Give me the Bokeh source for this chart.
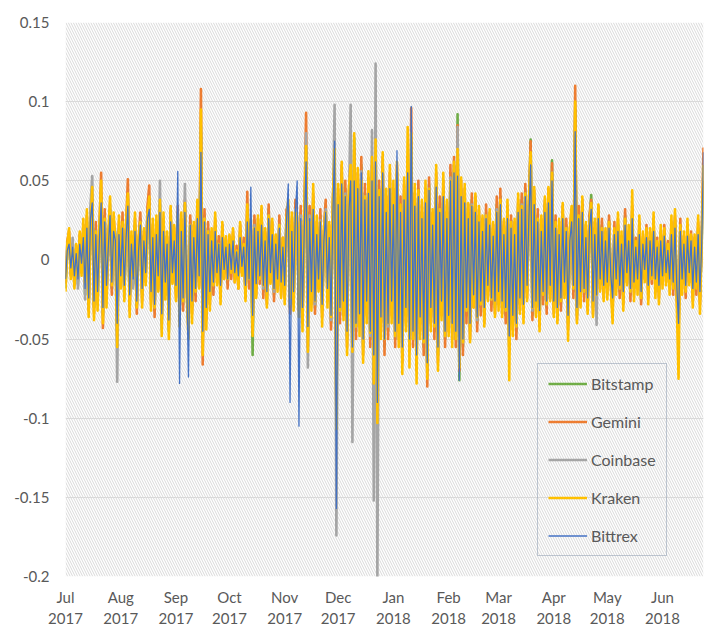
import datetime as dt
import calendar
from bokeh.plotting import figure
from bokeh.models import (Range1d, FixedTicker, CustomJSTickFormatter, BoxAnnotation,
                          Legend, LegendItem, ColumnDataSource)
from bokeh.embed import file_html
from bokeh.resources import INLINE

# Daily returns, in thousandths, Jul 1 2017 .. Jun 24 2018
start_date = dt.date(2017, 7, 1)

bitstamp = [
    -18, 8, 14, -6, 10, -12, 5, -15, 12, -3, 18, -22, 25, -28, 30, 40, -30, 20, -25, 15, 42, -35, 28, -20, 10, 32, -18, 22, 15, -45, 20,
    -12, 25, -20, 18, 40, -28, 12, -15, 22, -30, 8, 26, -22, 15, -10, 30, 38, -25, 18, -32, 20, -14, 35, -40, 22, -18, 12, -45, 28, -10, 16,
    -20, 30, -35, 22, -28, 35, -15, -40, 25, -30, 18, -22, 30, -12, 80, -50, 28, -35, 20, -25, 15, -18, 22, -10, 12, -20, 18, -8, 10, -15,
    12, -8, 15, -10, 6, -14, 18, -5, 10, -20, 30, -15, 20, -60, 25, -18, 22, -12, 28, -20, 15, -25, 32, -10, 20, -22, 12, -15, 25, -18, 10,
    -20, 28, 30, -30, 22, -25, 35, 20, -28, 30, -35, 25, 70, -48, 30, -25, 38, -30, 20, -15, 28, -32, 15, 35, -22, 18, -40, 30, 60, -95,
    40, -35, 55, -30, 45, -50, 35, 55, -60, 77, -45, 50, -38, 60, -55, 42, -30, 48, -50, 55, -65, 70, -75, 45, -40, 60, -55, 35, -45, 50, -30,
    40, -50, 55, -45, 35, -60, 42, -35, 60, -55, 75, -50, 38, -65, 45, -40, 30, -55, 40, -70, 48, -35, 25, -45, 50, -60, 35, -30, 45, -50, 30,
    -40, 55, -45, 60, -50, 92, -76, 45, -55, 40, -35, 30, -45, 38, -25, 35, -40, 28, -30, 22, -35, 30, -20, 25, -28, 18, -30, 35,
    -25, 40, -30, 20, -35, 30, -55, 25, -40, 20, -45, 35, -28, 38, -32, 45, -20, 30, 76, -35, 40, -30, 28, -38, 22, -25, 35, -30, 42, -20, 63,
    -30, 25, -35, 20, -28, 30, -18, 22, -40, 15, 28, -20, 95, -35, 30, -25, 35, -22, 18, -28, 25, 41, -30, 20, -25, 30, -15, 22, -20, 15,
    -18, 25, -12, -30, 20, -15, 22, -20, 12, -25, 28, -10, 15, -22, 30, -18, 10, -15, 20, -25, 12, -8, 18, -20, 14, -12, 22, -16, 10, -20, 15,
    -12, 18, -10, 8, -15, 20, -18, 25, -20, -45, 22, -15, 12, -20, 18, -10, 15, -22, 10, -18, 20, -25, 12, 50,
]

gemini = [
    -15, 12, 18, -10, 8, -16, 9, -12, 16, -8, 22, -18, 28, -32, 26, 36, -34, 24, -20, 18, 55, -43, 32, -24, 14, 28, -22, 26, 12, -48, 24,
    -16, 30, -18, 22, 51, -32, 15, -12, 26, -34, 12, 30, -26, 18, -14, 34, 47, -28, 22, -36, 24, -18, 30, -38, 26, -22, 15, -42, 32, -14, 20,
    -24, 34, -38, 26, -32, 38, -18, -44, 28, -34, 22, -26, 34, -16, 108, -66, 32, -38, 24, -28, 18, -22, 26, -14, 15, -24, 22, -12, 14, -18,
    15, -12, 18, -14, 9, -18, 22, -8, 14, -24, 43, -18, 24, -45, 28, -22, 26, -15, 32, -24, 18, -28, 35, -14, 24, -26, 15, -18, 28, -22, 14,
    -24, 32, 34, -34, 26, -28, 38, 24, -32, 34, -40, 28, 93, -55, 34, -28, 42, -34, 24, -18, 32, -36, 18, 38, -26, 22, -44, 34, 65, -100,
    45, -40, 60, -35, 50, -55, 40, 65, -62, 70, -50, 55, -42, 65, -60, 48, -35, 52, -55, 60, -70, 74, -80, 50, -45, 65, -60, 40, -50, 55, -35,
    45, -55, 60, -50, 40, -65, 48, -40, 65, -58, 96, -55, 42, -70, 50, -45, 35, -60, 45, -80, 52, -40, 30, -50, 55, -65, 40, -35, 50, -55, 35,
    -45, 60, -50, 65, -55, 85, -70, 50, -60, 45, -40, 35, -50, 42, -30, 40, -45, 32, -35, 26, -40, 35, -24, 30, -32, 22, -34, 40,
    -28, 45, -34, 24, -40, 34, -58, 28, -44, 24, -50, 38, -32, 42, -36, 48, -24, 34, 75, -38, 44, -34, 32, -42, 26, -28, 38, -34, 45, -24, 61,
    -34, 28, -38, 24, -32, 34, -22, 26, -44, 18, 32, -24, 110, -38, 34, -28, 38, -26, 22, -32, 28, 38, -34, 24, -28, 34, -18, 26, -24, 18,
    -22, 28, -15, -34, 24, -18, 26, -24, 15, -28, 32, -14, 18, -26, 34, -22, 14, -18, 24, -28, 15, -12, 22, -24, 18, -15, 26, -20, 14, -24, 18,
    -15, 22, -14, 12, -18, 24, -22, 28, -24, -48, 26, -18, 15, -24, 22, -14, 18, -26, 14, -22, 24, -28, 15, 71,
]

coinbase = [
    -12, 10, 12, -9, 14, -10, 7, -18, 10, -6, 15, -25, 22, -30, 34, 53, -28, 18, -28, 12, 38, -32, 25, -24, 8, 35, -15, 20, 18, -77, 22,
    -10, 22, -24, 15, 36, -25, 10, -18, 20, -28, 6, 24, -20, 12, -8, 28, 34, -22, 16, -30, 18, -12, 50, -44, 20, -16, 10, -40, 26, -8, 14,
    -18, 28, -32, 20, -26, 48, -14, -38, 22, -28, 16, -20, 28, -10, 85, -48, 26, -32, 18, -22, 12, -16, 20, -8, 10, -18, 16, -6, 8, -12,
    10, -6, 12, -8, 5, -12, 15, -4, 8, -18, 26, -12, 18, -40, 22, -15, 20, -10, 25, -18, 12, -22, 28, -8, 18, -20, 10, -12, 22, -15, 8,
    -18, 25, 28, -28, 20, -22, 32, 18, -25, 28, -32, 22, 80, -68, 28, -22, 35, -28, 18, -14, 25, -30, 14, 32, -20, 16, -38, 28, 98, -174,
    38, -32, 50, -28, 42, -48, 32, 98, -115, 55, -42, 48, -35, 56, -52, 40, -28, 45, -48, 82, -152, 124, -200, 42, -38, 55, -50, 32, -42, 46, -28,
    38, -48, 52, -42, 32, -58, 40, -32, 55, -52, 70, -48, 35, -62, 42, -38, 28, -52, 38, -68, 45, -32, 22, -42, 48, -58, 32, -28, 42, -48, 28,
    -38, 52, -42, 55, -48, 84, -65, 42, -52, 38, -32, 28, -42, 35, -22, 32, -38, 25, -28, 20, -32, 28, -18, 22, -25, 16, -28, 32,
    -22, 36, -28, 18, -32, 28, -50, 22, -36, 18, -42, 32, -25, 35, -30, 42, -18, 28, 65, -32, 36, -28, 25, -35, 20, -22, 32, -28, 40, -18, 55,
    -26, 22, -32, 18, -25, 28, -15, 20, -36, 12, 25, -18, 80, -32, 26, -22, 32, -20, 16, -25, 22, 35, -28, 18, -41, 28, -12, 20, -18, 12,
    -15, 22, -10, -28, 18, -12, 20, -18, 10, -22, 25, -8, 12, -20, 28, -15, 8, -12, 18, -22, 10, -6, 15, -18, 12, -10, 20, -14, 8, -18, 12,
    -10, 16, -8, 6, -12, 18, -15, 22, -18, -40, 20, -12, 10, -18, 16, -8, 12, -20, 8, -15, 18, -22, 10, 45,
]

kraken = [
    -20, 10, 20, -12, 6, -18, 10, -10, 18, -10, 26, -14, 32, -36, 20, 46, -38, 18, -32, 22, 50, -40, 26, -30, 16, 40, -16, 30, 10, -55, 28,
    -18, 24, -26, 24, 42, -36, 18, -10, 30, -30, 14, 24, -30, 20, -16, 28, 40, -32, 26, -30, 28, -20, 38, -48, 30, -25, 18, -50, 34, -15, 22,
    -26, 28, -42, 30, -26, 36, -22, -50, 22, -40, 24, -20, 38, -18, 95, -60, 26, -44, 18, -32, 20, -16, 30, -16, 10, -28, 24, -12, 15, -12,
    16, -8, 20, -14, 6, -18, 24, -10, 10, -26, 35, -12, 26, -48, 20, -24, 28, -12, 34, -16, 20, -30, 28, -15, 26, -18, 16, -20, 22, -24, 14,
    -28, 26, 38, -24, 30, -32, 30, 28, -36, 24, -45, 32, 72, -58, 24, -32, 48, -26, 28, -20, 24, -42, 20, 30, -30, 24, -36, 38, 70, -107,
    48, -32, 62, -38, 40, -60, 45, 60, -58, 80, -42, 58, -48, 50, -65, 40, -40, 56, -46, 65, -78, 76, -103, 44, -50, 68, -50, 45, -40, 60, -40,
    50, -48, 62, -55, 35, -72, 52, -45, 84, -68, 80, -50, 48, -78, 44, -50, 38, -52, 50, -75, 45, -45, 32, -42, 60, -70, 32, -38, 55, -48, 38,
    -48, 50, -55, 62, -50, 70, -68, 52, -52, 48, -32, 36, -52, 34, -30, 42, -36, 34, -28, 28, -42, 28, -26, 32, -25, 24, -36, 30,
    -32, 38, -36, 26, -32, 38, -76, 24, -48, 26, -42, 42, -34, 34, -40, 42, -26, 36, 68, -30, 46, -36, 26, -45, 28, -22, 40, -28, 46, -26, 55,
    -36, 24, -40, 26, -26, 36, -24, 20, -51, 20, 34, -18, 100, -40, 28, -30, 40, -20, 24, -34, 22, 36, -36, 26, -22, 35, -20, 20, -26, 20,
    -25, 24, -18, -40, 20, -22, 30, -18, 18, -32, 26, -16, 22, -20, 44, -26, 12, -22, 28, -24, 18, -14, 20, -28, 20, -12, 30, -24, 12, -28, 22,
    -18, 20, -16, 10, -22, 28, -18, 32, -28, -75, 22, -22, 18, -20, 26, -16, 16, -30, 16, -18, 28, -34, 14, 60,
]

bittrex = [
    -12, 6, 10, -5, 8, -10, 4, -12, 10, -2, 14, -18, 20, -24, 26, 36, -26, 16, -20, 12, 36, -30, 24, -16, 8, 28, -14, 18, 12, -40, 16,
    -10, 20, -16, 14, 34, -22, 10, -12, 18, -26, 6, 22, -18, 12, -8, 26, 32, -20, 14, -28, 16, -10, 30, -34, 18, -14, 10, -38, 24, -8, 12,
    -16, 56, -78, 18, -24, 30, -12, -74, 22, -26, 14, -18, 26, -10, 68, -45, 24, -30, 16, -20, 12, -14, 18, -8, 10, -16, 14, -6, 8, -12,
    10, -6, 12, -8, 5, -10, 14, -4, 8, -16, 24, -12, 46, -35, 20, -15, 18, -10, 22, -16, 12, -20, 26, -8, 16, -18, 10, -12, 20, -14, 8,
    -16, 24, 48, -90, 18, -20, 30, 50, -105, 26, -30, 20, 62, -42, 26, -20, 32, -26, 16, -12, 24, -28, 12, 30, -18, 14, -35, 26, 75, -157,
    35, -30, 48, -26, 40, -45, 30, 50, -55, 50, -40, 45, -34, 55, -50, 38, -26, 42, -45, 50, -60, 62, -90, 40, -36, 55, -50, 30, -40, 45, -26,
    35, -45, 69, -40, 30, -55, 38, -30, 55, -50, 97, -45, 34, -60, 40, -36, 26, -50, 36, -65, 44, -30, 22, -40, 46, -55, 30, -26, 40, -45, 26,
    -35, 50, -40, 55, -45, 53, -76, 40, -50, 36, -30, 26, -40, 34, -22, 30, -36, 24, -26, 18, -30, 26, -16, 22, -24, 15, -26, 30,
    -20, 35, -26, 16, -30, 26, -48, 20, -35, 16, -40, 30, -24, 32, -28, 40, -16, 26, 60, -30, 35, -26, 24, -32, 18, -20, 30, -26, 36, -16, 50,
    -26, 20, -30, 16, -24, 26, -14, 18, -35, 12, 24, -16, 81, -30, 26, -20, 30, -18, 14, -24, 20, 32, -26, 16, -22, 26, -12, 18, -16, 12,
    -14, 20, -10, -24, 16, -12, 18, -16, 10, -20, 22, -8, 12, -18, 26, -14, 8, -12, 16, -20, 10, -6, 14, -16, 12, -10, 18, -12, 8, -16, 12,
    -10, 15, -8, 6, -12, 16, -14, 20, -16, -40, 18, -12, 10, -16, 15, -8, 12, -18, 8, -14, 16, -20, 10, 68,
]

series_names = ["Bitstamp", "Gemini", "Coinbase", "Kraken", "Bittrex"]
series_colors = ["#70AD47", "#ED7D31", "#A5A5A5", "#FFC000", "#4472C4"]
series_widths = [2.6, 2.6, 2.6, 2.6, 1.3]
series_values = [bitstamp, gemini, coinbase, kraken, bittrex]

month_ticks = [dt.date(2017, m, 1) for m in range(7, 13)] + [dt.date(2018, m, 1) for m in range(1, 7)]
tick_labels = ["Jul\n2017", "Aug\n2017", "Sep\n2017", "Oct\n2017", "Nov\n2017", "Dec\n2017",
               "Jan\n2018", "Feb\n2018", "Mar\n2018", "Apr\n2018", "May\n2018", "Jun\n2018"]
y_ticks = [-0.2, -0.15, -0.1, -0.05, 0, 0.05, 0.1, 0.15]


def to_ms(d):
    return calendar.timegm(d.timetuple()) * 1000


n = len(bitstamp)
dates = [start_date + dt.timedelta(days=i) for i in range(n)]
x_ms = [to_ms(d) for d in dates]

FONT = "Lato"
TXT = "#595959"

p = figure(width=705, height=630, x_axis_type="datetime",
           x_range=Range1d(x_ms[0], x_ms[-1]), y_range=Range1d(-0.2, 0.15),
           output_backend="svg", toolbar_location=None,
           min_border_left=65, min_border_right=2, min_border_top=22, min_border_bottom=50)
p.outline_line_color = None
p.background_fill_color = "white"

hatch = BoxAnnotation(left=x_ms[0], right=x_ms[-1], bottom=-0.2, top=0.15,
                      fill_color=None, fill_alpha=0, line_color=None,
                      hatch_pattern="\\", hatch_color="#d9d9d9", hatch_scale=5,
                      hatch_weight=1, level="underlay")
p.add_layout(hatch)

p.xgrid.grid_line_color = None
p.ygrid.grid_line_color = "#d9d9d9"
p.ygrid.grid_line_width = 1

p.xaxis.ticker = FixedTicker(ticks=[to_ms(d) for d in month_ticks])
p.xaxis.major_label_overrides = {to_ms(d): lab for d, lab in zip(month_ticks, tick_labels)}
p.yaxis.ticker = FixedTicker(ticks=y_ticks)
p.yaxis.formatter = CustomJSTickFormatter(code="return (Math.round(tick*100)/100).toString();")

for ax in (p.xaxis, p.yaxis):
    ax.axis_line_color = None
    ax.major_tick_line_color = None
    ax.minor_tick_line_color = None
    ax.major_tick_out = 0
    ax.major_tick_in = 0
    ax.minor_tick_out = 0
    ax.major_label_text_font = FONT
    ax.major_label_text_font_size = "15px"
    ax.major_label_text_color = TXT
p.yaxis.major_label_standoff = 16
p.xaxis.major_label_standoff = 11

items = []
for name, color, w, vals in zip(series_names, series_colors, series_widths, series_values):
    src = ColumnDataSource(dict(x=x_ms[:len(vals)], y=[v / 1000 for v in vals]))
    r = p.line("x", "y", source=src, line_color=color, line_width=w, line_join="round")
    items.append(LegendItem(label=name, renderers=[r]))

legend = Legend(items=items, location=(472, 20), border_line_color="#8596AB",
                border_line_width=1.5, background_fill_alpha=0,
                label_text_font=FONT, label_text_font_size="16px", label_text_color=TXT,
                glyph_width=39, glyph_height=19, label_height=19, spacing=19,
                padding=10, margin=0, label_standoff=4)
p.add_layout(legend)

open("out.html", "w").write(file_html(p, INLINE))
